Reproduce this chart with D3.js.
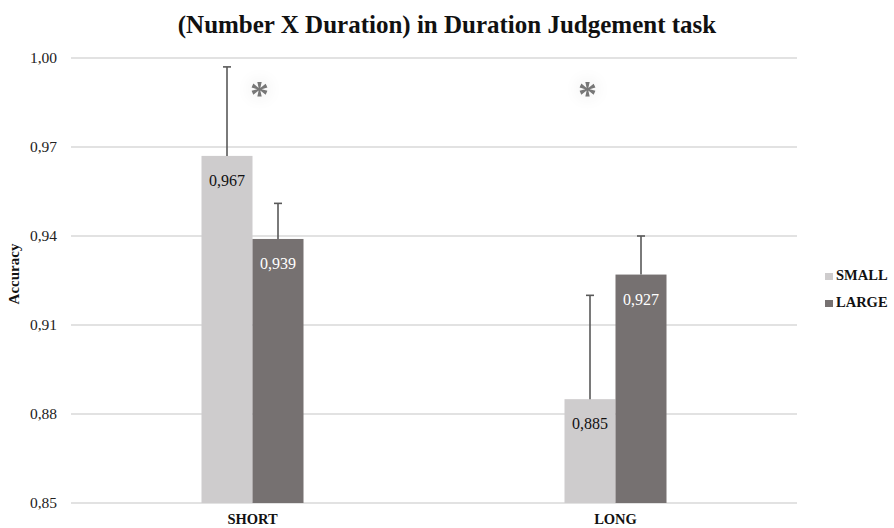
<!DOCTYPE html>
<html><head><meta charset="utf-8">
<script src="https://cdn.jsdelivr.net/npm/d3@7"></script>
<style>body{margin:0;background:#fff;} svg{display:block;} text{font-family:"Liberation Serif","Times New Roman",serif;}</style>
</head><body>
<svg id="c" width="894" height="528"></svg>
<script>
const categories = ["SHORT", "LONG"];
const seriesNames = ["SMALL", "LARGE"];
const smallValues = [0.967, 0.885];
const largeValues = [0.939, 0.927];
const smallErrTop = [0.997, 0.920];
const largeErrTop = [0.951, 0.940];
const yTicks = [0.85, 0.88, 0.91, 0.94, 0.97, 1.00];
const significant = [true, true];
const colors = {SMALL: "#cecccd", LARGE: "#767171"};

const svg = d3.select("#c");
const m = {left: 71, right: 797, top: 58, bottom: 503};

const defs = svg.append("defs");
const f = defs.append("filter").attr("id","glow").attr("x","-200%").attr("y","-200%").attr("width","500%").attr("height","500%");
f.append("feGaussianBlur").attr("in","SourceAlpha").attr("stdDeviation",9).attr("result","b");
f.append("feComponentTransfer").attr("in","b").attr("result","b2").append("feFuncA").attr("type","linear").attr("slope",0.15);
const mg = f.append("feMerge");
mg.append("feMergeNode").attr("in","b2");
mg.append("feMergeNode").attr("in","SourceGraphic");

const x = d3.scaleBand().domain(categories).range([m.left, m.right]).padding(0);
const y = d3.scaleLinear().domain([0.85, 1.00]).range([m.bottom, m.top]);
const barW = 51;
const xs = d3.scaleBand().domain(seriesNames).range([0, barW*2]);

// gridlines
svg.append("g").selectAll("line").data(yTicks).join("line")
  .attr("x1", m.left).attr("x2", m.right)
  .attr("y1", d => y(d)).attr("y2", d => y(d))
  .attr("stroke", "#d9d9d9").attr("stroke-width", 1.5);

// y axis labels
const yAxis = d3.axisLeft(y).tickValues(yTicks).tickSize(0).tickPadding(14)
  .tickFormat(d => d3.format(".2f")(d).replace(".", ","));
const ya = svg.append("g").attr("transform", `translate(${m.left},0)`).call(yAxis);
ya.select(".domain").remove();
ya.selectAll("text").attr("font-family", null).attr("font-size", 15.5).attr("fill", "#222");

// x axis labels
const xa = svg.append("g").attr("transform", `translate(0,${m.bottom})`).call(d3.axisBottom(x).tickSize(0).tickPadding(11));
xa.select(".domain").remove();
xa.selectAll("text").attr("font-family", null).attr("font-size", 14.5).attr("font-weight", "bold").attr("fill", "#111");

const data = [];
categories.forEach((c, i) => {
  data.push({cat: c, s: "SMALL", v: smallValues[i], e: smallErrTop[i]});
  data.push({cat: c, s: "LARGE", v: largeValues[i], e: largeErrTop[i]});
});
const bx = d => x(d.cat) + x.bandwidth()/2 - barW + xs(d.s);

svg.append("g").selectAll("rect").data(data).join("rect")
  .attr("x", d => bx(d)).attr("width", xs.bandwidth())
  .attr("y", d => y(d.v)).attr("height", d => y(0.85) - y(d.v))
  .attr("fill", d => colors[d.s]);

// error bars (upper only)
const eb = svg.append("g").attr("stroke", "#595959").attr("stroke-width", 1.6);
eb.selectAll("line.v").data(data).join("line")
  .attr("x1", d => bx(d) + xs.bandwidth()/2).attr("x2", d => bx(d) + xs.bandwidth()/2)
  .attr("y1", d => y(d.v)).attr("y2", d => y(d.e));
eb.selectAll("line.c").data(data).join("line")
  .attr("x1", d => bx(d) + xs.bandwidth()/2 - 4).attr("x2", d => bx(d) + xs.bandwidth()/2 + 4)
  .attr("y1", d => y(d.e)).attr("y2", d => y(d.e));

// value labels
svg.append("g").selectAll("text").data(data).join("text")
  .attr("x", d => bx(d) + xs.bandwidth()/2).attr("y", d => y(d.v) + 30)
  .attr("text-anchor", "middle").attr("font-size", 16)
  .attr("fill", d => d.s === "SMALL" ? "#111" : "#fff")
  .text(d => d3.format(".3f")(d.v).replace(".", ","));

// asterisks
const starOffset = {SHORT: 7, LONG: -28};
svg.append("g").selectAll("text").data(categories.filter((c,i)=>significant[i])).join("text")
  .attr("x", c => x(c) + x.bandwidth()/2 + starOffset[c]).attr("y", 107)
  .attr("text-anchor", "middle").attr("font-family", "'DejaVu Sans',sans-serif").attr("font-weight", "bold").attr("font-size", 38)
  .attr("fill", "#777").attr("filter", "url(#glow)").text("*");

// title
svg.append("text").attr("x", 447).attr("y", 33).attr("text-anchor", "middle")
  .attr("font-weight", "bold").attr("font-size", 25).attr("fill", "#111")
  .text("(Number X Duration) in Duration Judgement task");

// y title
svg.append("text").attr("transform", "translate(19,274) rotate(-90)").attr("text-anchor", "middle")
  .attr("font-weight", "bold").attr("font-size", 15).attr("fill", "#111")
  .text("Accuracy");

// legend
const lg = svg.append("g").selectAll("g").data(seriesNames).join("g")
  .attr("transform", (d, i) => `translate(825,${280 + i*27})`);
lg.append("rect").attr("x", 0).attr("y", -7).attr("width", 8).attr("height", 7).attr("fill", d => colors[d]);
lg.append("text").attr("x", 11).attr("y", 0).attr("font-weight", "bold")
  .attr("font-size", 14.5).attr("fill", "#111").text(d => d);
</script>
</body></html>
